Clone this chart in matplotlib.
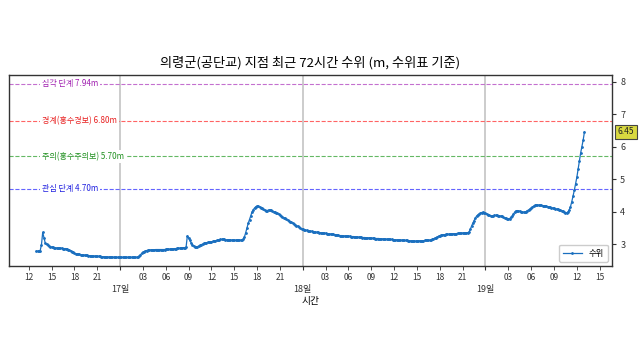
import matplotlib
matplotlib.use("Agg")
import matplotlib.pyplot as plt
import matplotlib.dates as mdates
import matplotlib.transforms as mtransforms
import pandas as pd

plt.rcParams['font.family'] = ['Noto Sans CJK KR', 'DejaVu Sans']
plt.rcParams['axes.unicode_minus'] = False

title = "의령군(공단교) 지점 최근 72시간 수위 (m, 수위표 기준)"
start_time = "2023-07-16 13:00"
interval = "10min"

# water level, 10-minute readings (one row per hour)
levels = [
    2.78, 2.78, 2.78, 2.80, 2.97, 3.36,
    3.20, 3.03, 2.99, 2.96, 2.94, 2.92,
    2.91, 2.90, 2.89, 2.88, 2.88, 2.87,
    2.87, 2.87, 2.87, 2.86, 2.86, 2.86,
    2.85, 2.83, 2.81, 2.79, 2.77, 2.75,
    2.72, 2.70, 2.69, 2.68, 2.68, 2.67,
    2.67, 2.66, 2.66, 2.65, 2.65, 2.64,
    2.64, 2.64, 2.63, 2.63, 2.63, 2.62,
    2.62, 2.62, 2.62, 2.61, 2.61, 2.61,
    2.60, 2.60, 2.60, 2.60, 2.60, 2.60,
    2.60, 2.59, 2.59, 2.59, 2.59, 2.59,
    2.59, 2.59, 2.59, 2.59, 2.59, 2.59,
    2.59, 2.59, 2.59, 2.59, 2.59, 2.59,
    2.59, 2.59, 2.60, 2.63, 2.67, 2.71,
    2.75, 2.77, 2.79, 2.80, 2.81, 2.81,
    2.82, 2.82, 2.82, 2.82, 2.83, 2.83,
    2.83, 2.83, 2.83, 2.83, 2.83, 2.83,
    2.84, 2.84, 2.84, 2.84, 2.85, 2.85,
    2.85, 2.86, 2.86, 2.87, 2.87, 2.87,
    2.88, 2.88, 2.89, 2.89, 2.90, 3.25,
    3.18, 3.11, 3.04, 2.98, 2.94, 2.92,
    2.92, 2.92, 2.94, 2.96, 2.98, 3.00,
    3.02, 3.03, 3.04, 3.05, 3.06, 3.06,
    3.07, 3.08, 3.09, 3.10, 3.11, 3.12,
    3.13, 3.14, 3.14, 3.14, 3.14, 3.13,
    3.13, 3.13, 3.13, 3.13, 3.12, 3.12,
    3.12, 3.12, 3.12, 3.12, 3.12, 3.12,
    3.12, 3.15, 3.22, 3.35, 3.50, 3.64,
    3.75, 3.87, 3.99, 4.06, 4.11, 4.15,
    4.17, 4.16, 4.14, 4.12, 4.10, 4.07,
    4.04, 4.02, 4.03, 4.05, 4.05, 4.04,
    4.02, 4.00, 3.98, 3.96, 3.94, 3.92,
    3.89, 3.86, 3.84, 3.81, 3.79, 3.76,
    3.74, 3.71, 3.69, 3.67, 3.64, 3.62,
    3.60, 3.57, 3.55, 3.52, 3.50, 3.47,
    3.45, 3.44, 3.43, 3.42, 3.41, 3.40,
    3.39, 3.39, 3.38, 3.37, 3.37, 3.36,
    3.36, 3.35, 3.35, 3.34, 3.34, 3.33,
    3.33, 3.32, 3.32, 3.31, 3.31, 3.30,
    3.30, 3.29, 3.29, 3.28, 3.27, 3.26,
    3.26, 3.26, 3.25, 3.25, 3.25, 3.24,
    3.24, 3.24, 3.23, 3.23, 3.23, 3.22,
    3.22, 3.22, 3.21, 3.21, 3.21, 3.20,
    3.20, 3.20, 3.19, 3.19, 3.19, 3.19,
    3.18, 3.18, 3.18, 3.17, 3.17, 3.17,
    3.17, 3.16, 3.16, 3.16, 3.15, 3.15,
    3.15, 3.14, 3.14, 3.14, 3.14, 3.13,
    3.13, 3.13, 3.13, 3.12, 3.12, 3.12,
    3.12, 3.11, 3.11, 3.11, 3.11, 3.10,
    3.10, 3.10, 3.09, 3.09, 3.09, 3.09,
    3.09, 3.09, 3.10, 3.10, 3.10, 3.10,
    3.11, 3.11, 3.11, 3.11, 3.12, 3.12,
    3.14, 3.16, 3.18, 3.20, 3.22, 3.24,
    3.26, 3.27, 3.28, 3.29, 3.29, 3.30,
    3.30, 3.30, 3.31, 3.31, 3.31, 3.32,
    3.32, 3.32, 3.33, 3.33, 3.33, 3.33,
    3.34, 3.34, 3.35, 3.35, 3.35, 3.37,
    3.45, 3.55, 3.64, 3.72, 3.80, 3.86,
    3.90, 3.93, 3.95, 3.97, 3.98, 3.97,
    3.95, 3.92, 3.90, 3.88, 3.87, 3.86,
    3.87, 3.88, 3.88, 3.88, 3.87, 3.87,
    3.86, 3.85, 3.83, 3.81, 3.79, 3.78,
    3.77, 3.78, 3.82, 3.86, 3.92, 3.98,
    4.02, 4.03, 4.02, 4.01, 4.00, 3.99,
    3.98, 3.98, 4.00, 4.03, 4.05, 4.08,
    4.11, 4.14, 4.17, 4.19, 4.20, 4.20,
    4.20, 4.19, 4.19, 4.18, 4.18, 4.17,
    4.16, 4.15, 4.14, 4.13, 4.12, 4.11,
    4.10, 4.09, 4.08, 4.07, 4.06, 4.05,
    4.03, 4.01, 3.99, 3.97, 3.96, 3.99,
    4.05, 4.15, 4.30, 4.47, 4.65, 4.85,
    5.05, 5.30, 5.55, 5.80, 6.00, 6.20,
    6.45,
]

threshold_names = ["심각 단계", "경계(홍수경보)", "주의(홍수주의보)", "관심 단계"]
threshold_values = [7.94, 6.80, 5.70, 4.70]
threshold_colors = ["#b040c0", "#ff3030", "#30a030", "#3030ff"]
threshold_text_colors = ["#a020b0", "#e82020", "#209020", "#2020e0"]

series_label = "수위"
x_label = "시간"

times = pd.date_range(start=start_time, periods=len(levels), freq=interval)

fig = plt.figure(figsize=(6.4, 3.6), dpi=100)
ax = fig.add_axes([0.014, 0.261, 0.942, 0.531])

ax.plot(times, levels, color="#1a6fbf", linewidth=0.9, marker="o",
        markersize=1.0, label=series_label, zorder=3)

for name, val, col, tcol in zip(threshold_names, threshold_values,
                                threshold_colors, threshold_text_colors):
    ax.axhline(val, color=col, linestyle="--", linewidth=0.8, alpha=0.75, zorder=2)
    trans = mtransforms.blended_transform_factory(ax.transAxes, ax.transData)
    ax.text(0.055, val, f"{name} {val:.2f}m", transform=trans, color=tcol,
            fontsize=5.8, va="center", ha="left", zorder=4,
            bbox=dict(facecolor="white", edgecolor="none", pad=1.5))

ax.yaxis.tick_right()
ax.set_yticks([3, 4, 5, 6, 7, 8])
ax.tick_params(axis="y", labelsize=6.5, length=3, pad=3, colors="#333333")

ax.xaxis.set_major_locator(mdates.DayLocator())
ax.xaxis.set_major_formatter(mdates.DateFormatter("%-d일"))
ax.xaxis.set_minor_locator(mdates.HourLocator(byhour=range(3, 24, 3)))
ax.xaxis.set_minor_formatter(mdates.DateFormatter("%H"))
ax.tick_params(axis="x", which="minor", labelsize=6, length=3, pad=2, colors="#333333")
ax.tick_params(axis="x", which="major", labelsize=6.5, length=3, pad=11, colors="#333333")
ax.grid(True, axis="x", which="major", color="#c8c8c8", linewidth=1.3, zorder=1)

ax.set_xlabel(x_label, fontsize=7, labelpad=1)
ax.set_title(title, fontsize=9.5, pad=6)

for sp in ax.spines.values():
    sp.set_color("#333333")
    sp.set_linewidth(1.0)

last_val = levels[-1]
trans2 = mtransforms.blended_transform_factory(ax.transAxes, ax.transData)
ax.text(1.023, last_val, f"{last_val:.2f}", transform=trans2, fontsize=6,
        ha="center", va="center", color="#222222", zorder=5,
        bbox=dict(facecolor="#d8d840", edgecolor="#444444", pad=2, linewidth=0.8))

leg = ax.legend(loc="lower right", fontsize=6, framealpha=1.0,
                handlelength=2.2, borderpad=0.5)
leg.get_frame().set_edgecolor("#cccccc")

fig.savefig("out.png", dpi=100)
